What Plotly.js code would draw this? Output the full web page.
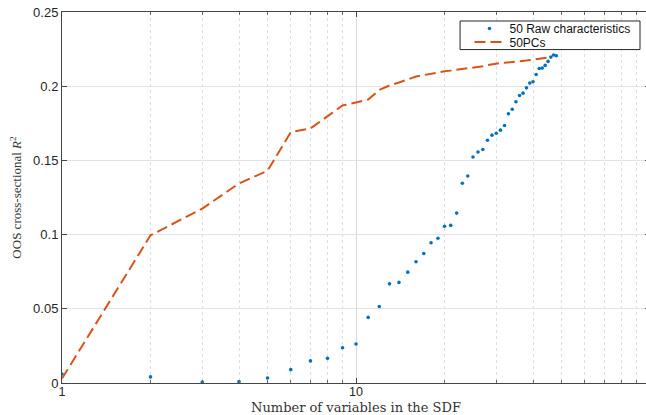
<!DOCTYPE html>
<html>
<head>
<meta charset="utf-8">
<script src="https://cdn.plot.ly/plotly-3.0.1.min.js"></script>
<style>
html,body{margin:0;padding:0;background:#fff;overflow:hidden;width:646px;height:415px;}
#chart{width:660px;height:415px;}
</style>
</head>
<body>
<div id="chart"></div>
<script>
// Number of variables in the SDF
const rawN = [1,2,3,4,5,6,7,8,9,10,11,12,13,14,15,16,17,18,19,20,21,22,23,24,25,26,27,28,29,30,31,32,33,34,35,36,37,38,39,40,41,42,43,44,45,46,47,48];
// OOS cross-sectional R^2 with raw characteristics
const rawR2 = [0.0061,0.0041,0.0007,0.0010,0.0034,0.0090,0.0149,0.0166,0.0238,0.0263,0.0442,0.0516,0.0668,0.0678,0.0747,0.0817,0.0873,0.0945,0.0975,0.1056,0.1062,0.1145,0.1346,0.1395,0.1523,0.1557,0.1573,0.1636,0.1670,0.1683,0.1704,0.1735,0.1814,0.1845,0.1895,0.1937,0.1953,0.1989,0.2021,0.2030,0.2079,0.2119,0.2122,0.2140,0.2167,0.2196,0.2210,0.2205];
// OOS cross-sectional R^2 with principal components
const pcN = [1,2,3,4,5,6,7,8,9,10,11,12,13,14,15,16,17,18,19,20,21,22,23,24,25,26,27,28,29,30,31,32,33,34,35,36,37,38,39,40,41,42,43,44,45,46];
const pcR2 = [0.003,0.0995,0.1175,0.1345,0.1430,0.1690,0.1715,0.1795,0.1870,0.1890,0.1910,0.1975,0.2005,0.2025,0.2045,0.2065,0.2075,0.2085,0.2095,0.2100,0.2105,0.2110,0.2115,0.2120,0.2125,0.2130,0.2135,0.2142,0.2148,0.2152,0.2156,0.2158,0.2160,0.2163,0.2165,0.2167,0.2170,0.2173,0.2176,0.2179,0.2182,0.2185,0.2188,0.2191,0.2194,0.2196];

const seriesNames = ['50 Raw characteristics','50PCs'];
const xTickVals = [1,10];
const xTickText = ['1','10'];

const traces = [
  {x: rawN, y: rawR2, type:'scatter', mode:'markers', name: seriesNames[0], legend:'legend',
   marker:{color:'#0072BD', size:3.6}},
  {x: pcN, y: pcR2, type:'scatter', mode:'lines', name: seriesNames[1], legend:'legend2',
   line:{color:'#D95319', width:2, dash:'11px,5px'}}
];

const legendCommon = {xanchor:'left', yanchor:'middle', bgcolor:'rgba(255,255,255,0)',
  borderwidth:0, font:{size:12, color:'#111'}};

const layout = {
  width:660, height:415,
  margin:{l:62, r:10, t:12, b:32},
  paper_bgcolor:'#fff', plot_bgcolor:'#fff',
  font:{family:'"Liberation Sans", Arial, sans-serif', size:13, color:'#262626'},
  showlegend:true,
  legend:Object.assign({x:0.693, y:0.9555}, legendCommon),
  legend2:Object.assign({x:0.693, y:0.919}, legendCommon),
  shapes:[{type:'rect', xref:'paper', yref:'paper', x0:0.677, x1:0.983, y0:0.8987, y1:0.9757,
    line:{color:'#262626', width:1}, fillcolor:'#fff', layer:'above'}],
  xaxis:{type:'log', range:[0,2], tickvals:xTickVals, ticktext:xTickText,
    ticks:'inside', ticklen:5, tickcolor:'#444', mirror:'ticks',
    showline:true, linecolor:'#444', linewidth:1,
    showgrid:true, gridcolor:'#d9d9d9', gridwidth:1, zeroline:false,
    minor:{dtick:'D1', ticks:'inside', ticklen:3, tickcolor:'#666', showgrid:true, gridcolor:'#dedede', griddash:'dot', gridwidth:1},
    tickfont:{size:12.5}, ticklabelstandoff:-3,
    title:{text:'Number of variables in the SDF', font:{family:'"DejaVu Serif", "Liberation Serif", serif', size:13, color:'#333'}, standoff:4}
  },
  yaxis:{range:[0,0.25], dtick:0.05, ticks:'inside', ticklen:5, tickcolor:'#444', mirror:'ticks',
    showline:true, linecolor:'#444', linewidth:1,
    showgrid:true, gridcolor:'#e3e3e3', gridwidth:1, zeroline:false,
    tickfont:{size:13},
    title:{text:'OOS cross-sectional <i>R</i><sup>2</sup>', font:{family:'"Liberation Serif", "DejaVu Serif", serif', size:13, color:'#333'}, standoff:8}
  }
};

Plotly.newPlot('chart', traces, layout, {displayModeBar:false, staticPlot:true});
</script>
</body>
</html>
